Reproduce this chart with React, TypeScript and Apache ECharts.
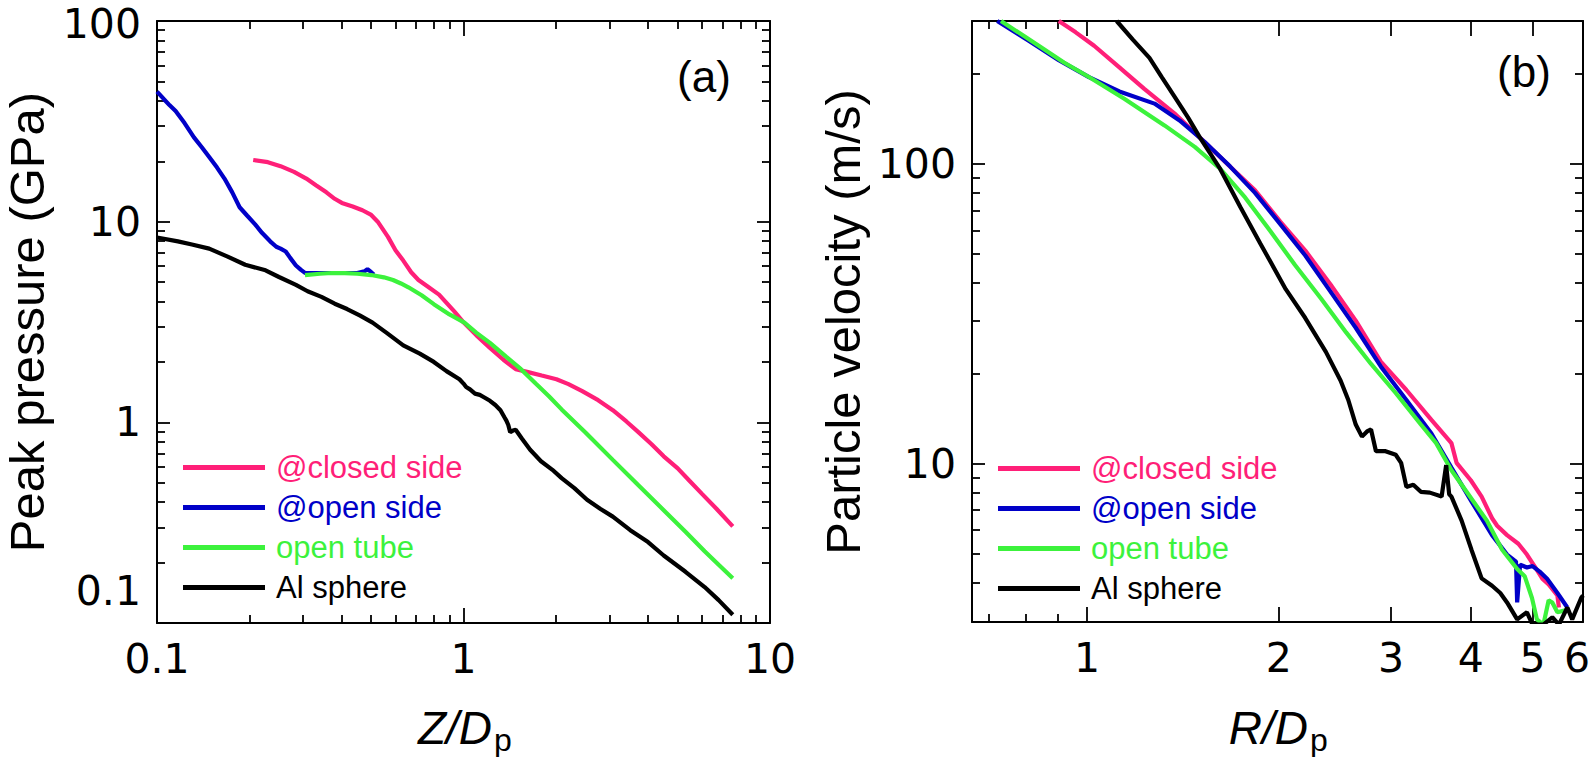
import React, { useEffect, useRef } from "react";
import * as echarts from "echarts";

const FONT = "'Liberation Sans', Arial, Helvetica, sans-serif";
const TICK_FONT = "'DejaVu Sans', 'Liberation Sans', Arial, sans-serif";
const seriesNames = ["@closed side", "@open side", "open tube", "Al sphere"];
const seriesColors = ["#ff1f78", "#0000c8", "#3cf23c", "#000000"];

// ---------- Panel (a): peak pressure vs Z/Dp ----------
const aClosed = [
  [0.206, 20.3], [0.23, 19.8], [0.253, 18.9], [0.28, 17.7], [0.307, 16.4], [0.33, 15.2],
  [0.357, 14.0], [0.38, 13.0], [0.401, 12.4], [0.435, 11.9], [0.468, 11.4], [0.5, 10.8],
  [0.525, 10.0], [0.567, 8.4], [0.6, 7.2], [0.636, 6.4], [0.675, 5.6], [0.713, 5.12],
  [0.77, 4.71], [0.832, 4.33], [0.933, 3.57], [1.0, 3.15], [1.1, 2.72], [1.22, 2.35],
  [1.35, 2.05], [1.48, 1.84], [1.6, 1.79], [1.8, 1.71], [2.01, 1.64], [2.2, 1.55],
  [2.44, 1.43], [2.75, 1.29], [3.07, 1.15], [3.4, 1.01], [3.72, 0.894], [4.1, 0.78],
  [4.5, 0.677], [5.0, 0.59], [5.45, 0.513], [6.0, 0.44], [6.7, 0.37], [7.56, 0.303],
];
const aOpen = [
  [0.1, 44.5], [0.105, 41], [0.11, 38], [0.115, 35.6], [0.123, 31], [0.132, 26.3],
  [0.14, 23.5], [0.148, 21.0], [0.157, 18.6], [0.166, 16.4], [0.176, 14.0], [0.186, 11.8],
  [0.197, 10.7], [0.209, 9.69], [0.22, 8.8], [0.234, 7.98], [0.245, 7.5], [0.253, 7.34],
  [0.263, 7.1], [0.272, 6.6], [0.284, 6.05], [0.295, 5.75], [0.304, 5.56], [0.35, 5.55],
  [0.4, 5.55], [0.45, 5.55], [0.475, 5.65], [0.486, 5.8], [0.5, 5.6], [0.51, 5.45],
];
const aTube = [
  [0.304, 5.41], [0.34, 5.5], [0.372, 5.55], [0.41, 5.54], [0.45, 5.5], [0.5, 5.42],
  [0.55, 5.28], [0.589, 5.12], [0.625, 4.92], [0.661, 4.71], [0.73, 4.3], [0.8, 3.88],
  [0.9, 3.45], [1.007, 3.14], [1.1, 2.8], [1.22, 2.49], [1.38, 2.12], [1.54, 1.84],
  [1.72, 1.56], [1.9, 1.35], [2.09, 1.16], [2.5, 0.89], [3.07, 0.65], [3.7, 0.49],
  [4.5, 0.365], [5.3, 0.285], [6.12, 0.228], [6.8, 0.195], [7.56, 0.167],
];
const aAl = [
  [0.1, 8.34], [0.117, 7.98], [0.13, 7.7], [0.148, 7.34], [0.17, 6.7], [0.194, 6.1],
  [0.226, 5.72], [0.25, 5.3], [0.284, 4.84], [0.31, 4.5], [0.344, 4.22], [0.38, 3.9],
  [0.417, 3.67], [0.46, 3.4], [0.505, 3.14], [0.56, 2.8], [0.636, 2.42], [0.72, 2.2],
  [0.8, 2.0], [0.88, 1.8], [0.97, 1.64], [1.0, 1.56], [1.02, 1.5], [1.05, 1.46],
  [1.09, 1.39], [1.13, 1.37], [1.17, 1.33], [1.22, 1.28], [1.27, 1.22], [1.32, 1.15],
  [1.36, 1.06], [1.38, 1.02], [1.4, 0.97], [1.42, 0.894], [1.45, 0.91], [1.48, 0.918],
  [1.55, 0.83], [1.65, 0.73], [1.79, 0.64], [1.95, 0.58], [2.09, 0.527], [2.3, 0.47],
  [2.53, 0.411], [2.8, 0.37], [3.07, 0.339], [3.5, 0.29], [4.0, 0.253], [4.5, 0.217],
  [5.3, 0.18], [6.12, 0.151], [6.8, 0.13], [7.56, 0.11],
];

// ---------- Panel (b): particle velocity vs R/Dp ----------
const bClosed = [
  [0.903, 300], [0.96, 275], [1.026, 248], [1.124, 210], [1.23, 178], [1.371, 147.6],
  [1.503, 122.6], [1.676, 98], [1.835, 81.7], [2.01, 64.2], [2.2, 51.4], [2.41, 39.6],
  [2.64, 30], [2.89, 21.9], [3.17, 17.6], [3.47, 14.0], [3.73, 11.7], [3.8, 10.06],
  [4.0, 8.8], [4.16, 7.76], [4.32, 6.57], [4.4, 6.2], [4.56, 5.77], [4.75, 5.4],
  [4.9, 4.97], [5.05, 4.5], [5.18, 4.13], [5.3, 3.95], [5.47, 3.63], [5.5, 3.31],
];
const bOpen = [
  [0.723, 300], [0.81, 257.6], [0.903, 222], [1.007, 195], [1.124, 174.6], [1.276, 159],
  [1.397, 139.7], [1.53, 118.4], [1.676, 98.2], [1.835, 80.1], [2.01, 63], [2.2, 49.5],
  [2.41, 37.5], [2.64, 28.4], [2.89, 21.1], [3.17, 16.3], [3.47, 12.6], [3.73, 9.69],
  [4.01, 7.48], [4.32, 5.77], [4.56, 4.97], [4.71, 4.71], [4.73, 3.44], [4.78, 4.6],
  [4.9, 4.5], [5.0, 4.55], [5.13, 4.36], [5.27, 4.13], [5.47, 3.7], [5.67, 3.31],
];
const bTube = [
  [0.733, 300], [0.84, 248], [0.92, 218], [1.007, 195], [1.144, 165], [1.323, 134.5],
  [1.476, 114], [1.617, 96.4], [1.77, 77.3], [1.94, 59.6], [2.12, 46], [2.33, 35.5],
  [2.55, 27.4], [2.79, 21.5], [3.05, 17.2], [3.34, 13.5], [3.53, 11.7], [3.73, 9.5],
  [3.94, 8.05], [4.24, 6.45], [4.48, 5.16], [4.73, 4.45], [4.86, 4.21], [4.99, 3.56],
  [5.08, 3.02], [5.2, 2.9], [5.3, 3.5], [5.37, 3.44], [5.47, 3.19], [5.67, 3.25],
];
const bAl = [
  [1.113, 300], [1.18, 260], [1.253, 226], [1.31, 195], [1.371, 168], [1.44, 143],
  [1.503, 122.6], [1.617, 96.4], [1.74, 71.8], [1.87, 54.3], [2.05, 38.2], [2.2, 30.6],
  [2.37, 23.6], [2.5, 18.9], [2.57, 16.3], [2.64, 13.5], [2.7, 12.3], [2.75, 12.8],
  [2.79, 13.0], [2.84, 11.0], [2.94, 11.0], [3.05, 10.7], [3.11, 10.06], [3.17, 8.36],
  [3.25, 8.5], [3.34, 8.05], [3.45, 8.0], [3.6, 7.76], [3.66, 9.88], [3.7, 7.9],
  [3.73, 7.76], [3.87, 6.45], [4.01, 5.16], [4.16, 4.14], [4.32, 3.91], [4.45, 3.7],
  [4.56, 3.44], [4.73, 3.02], [4.9, 3.19], [5.0, 2.9], [5.2, 2.9], [5.37, 3.07],
  [5.5, 2.9], [5.67, 3.31], [5.77, 3.02], [5.96, 3.56], [6.0, 3.63],
];

// ---------- Axis ticks / labels ----------
const aXMajor = [0.1, 1, 10];
const aXMinor = [0.2, 0.3, 0.4, 0.5, 0.6, 0.7, 0.8, 0.9, 2, 3, 4, 5, 6, 7, 8, 9];
const aYMajor = [0.1, 1, 10, 100];
const aYMinor = [0.2, 0.3, 0.4, 0.5, 0.6, 0.7, 0.8, 0.9, 2, 3, 4, 5, 6, 7, 8, 9,
  20, 30, 40, 50, 60, 70, 80, 90];
const bXMajor = [1, 2, 3, 4, 5, 6];
const bXMinor = [0.7, 0.8, 0.9];
const bYMajor = [10, 100];
const bYMinor = [4, 5, 6, 7, 8, 9, 20, 30, 40, 50, 60, 70, 80, 90, 200];

const aRange = { xMin: 0.1, xMax: 10, yMin: 0.1, yMax: 100 };
const bRange = { xMin: 0.66, xMax: 6.0, yMin: 2.96, yMax: 300 };

const fmt = (v: number) => String(Number(Number(v).toPrecision(6)));
const LABEL_SIZE = 41;

function makeAxes(dim: "x" | "y", gridIndex: number, min: number, max: number,
  major: number[], minor: number[], labelMargin: number, shiftEdgeLabels: boolean) {
  const pos = dim === "x" ? ["bottom", "top"] : ["left", "right"];
  const majorLen = dim === "x" ? 15 : 13;
  const base: any = {
    type: "log", logBase: 10, gridIndex, min, max,
    splitLine: { show: false },
    axisPointer: { show: false },
  };
  const line = { show: true, onZero: false, lineStyle: { color: "#000", width: 2 } };
  const tick = (vals: number[], len: number) => ({
    show: true, inside: true, length: len, customValues: vals,
    lineStyle: { color: "#000", width: 1.8 },
  });
  const labelMain: any = {
    show: true, customValues: major, margin: labelMargin,
    color: "#000", fontSize: LABEL_SIZE, fontFamily: TICK_FONT,
    showMinLabel: true, showMaxLabel: true, hideOverlap: false,
    verticalAlign: dim === "x" ? "top" : "middle",
    align: dim === "x" ? "center" : "right",
    formatter: (v: number) => {
      const s = fmt(v);
      if (shiftEdgeLabels && dim === "y" && Math.abs(v - min) < 1e-9) return `{up|${s}}`;
      if (shiftEdgeLabels && dim === "y" && Math.abs(v - max) < 1e-6) return `{dn|${s}}`;
      if (shiftEdgeLabels && dim === "x" && Math.abs(v - max) < 1e-6) return `{lf|${s}}`;
      return s;
    },
    rich: {
      up: { fontSize: LABEL_SIZE, fontFamily: TICK_FONT, color: "#000", padding: [0, 0, 64, 0] },
      dn: { fontSize: LABEL_SIZE, fontFamily: TICK_FONT, color: "#000", padding: [6, 0, 0, 0] },
      lf: { fontSize: LABEL_SIZE, fontFamily: TICK_FONT, color: "#000", padding: [0, 12, 0, 0] },
    },
  };
  return [
    { ...base, position: pos[0], axisLine: line, axisTick: tick(major, majorLen), axisLabel: labelMain },
    { ...base, position: pos[1], axisLine: line, axisTick: tick(major, majorLen), axisLabel: { show: false } },
    { ...base, position: pos[0], axisLine: { show: false }, axisTick: tick(minor, 8), axisLabel: { show: false } },
    { ...base, position: pos[1], axisLine: { show: false }, axisTick: tick(minor, 8), axisLabel: { show: false } },
  ];
}

function lineSeries(name: string, color: string, data: number[][], xi: number, yi: number) {
  return {
    type: "line", name, data, xAxisIndex: xi, yAxisIndex: yi,
    showSymbol: false, symbol: "none", smooth: false, clip: true,
    color, itemStyle: { color },
    lineStyle: { color, width: 4.2 },
    emphasis: { disabled: true },
  };
}

function legendFor(left: number, top: number) {
  return {
    left, top, orient: "vertical", icon: "rect", itemWidth: 82, itemHeight: 5,
    itemGap: 9, selectedMode: false,
    textStyle: { fontSize: 31, fontFamily: FONT, padding: [0, 0, 0, 6] },
    data: seriesNames.map((n, i) => ({ name: n, textStyle: { color: seriesColors[i] } })),
  };
}

function title(text: string, x: number, y: number, size: number, italic: boolean, rot: boolean, align = "center") {
  return {
    type: "text", x, y,
    rotation: rot ? Math.PI / 2 : 0,
    silent: true,
    style: {
      text, fill: "#000", fontSize: size, fontFamily: FONT,
      fontStyle: italic ? "italic" : "normal",
      align, verticalAlign: "middle",
    },
  };
}

export default function App() {
  const ref = useRef<HTMLDivElement>(null);
  useEffect(() => {
    if (!ref.current) return;
    const chart = echarts.init(ref.current, null, { renderer: "svg" });
    const xAxis = [
      ...makeAxes("x", 0, aRange.xMin, aRange.xMax, aXMajor, aXMinor, 15, false),
      ...makeAxes("x", 1, bRange.xMin, bRange.xMax, bXMajor, bXMinor, 15, true),
    ];
    const yAxis = [
      ...makeAxes("y", 0, aRange.yMin, aRange.yMax, aYMajor, aYMinor, 16, true),
      ...makeAxes("y", 1, bRange.yMin, bRange.yMax, bYMajor, bYMinor, 16, false),
    ];
    const aData = [aClosed, aOpen, aTube, aAl];
    const bData = [bClosed, bOpen, bTube, bAl];
    const series = [
      ...aData.map((d, i) => lineSeries(seriesNames[i], seriesColors[i], d, 0, 0)),
      ...bData.map((d, i) => lineSeries(seriesNames[i], seriesColors[i], d, 4, 4)),
    ];
    chart.setOption({
      animation: false,
      backgroundColor: "#fff",
      grid: [
        { left: 157, top: 21, width: 613, height: 602, outerBoundsMode: "none", containLabel: false },
        { left: 972, top: 21, width: 611, height: 601, outerBoundsMode: "none", containLabel: false },
      ],
      xAxis, yAxis, series,
      legend: [legendFor(178, 447), legendFor(993, 448)],
      graphic: [
        title("(a)", 704, 76, 44, false, false),
        title("(b)", 1524, 71, 44, false, false),
        title("Peak pressure (GPa)", 27, 322, 49, false, true),
        title("Particle velocity (m/s)", 843, 322, 49, false, true),
        title("Z/D", 492, 728, 46, true, false, "right"),
        title("p", 494, 740, 32, false, false, "left"),
        title("R/D", 1308, 728, 46, true, false, "right"),
        title("p", 1310, 740, 32, false, false, "left"),
      ],
    });
    return () => chart.dispose();
  }, []);
  return (
    <div ref={ref} style={{ position: "fixed", left: 0, top: 0, width: 1594, height: 757, background: "#fff" }} />
  );
}
